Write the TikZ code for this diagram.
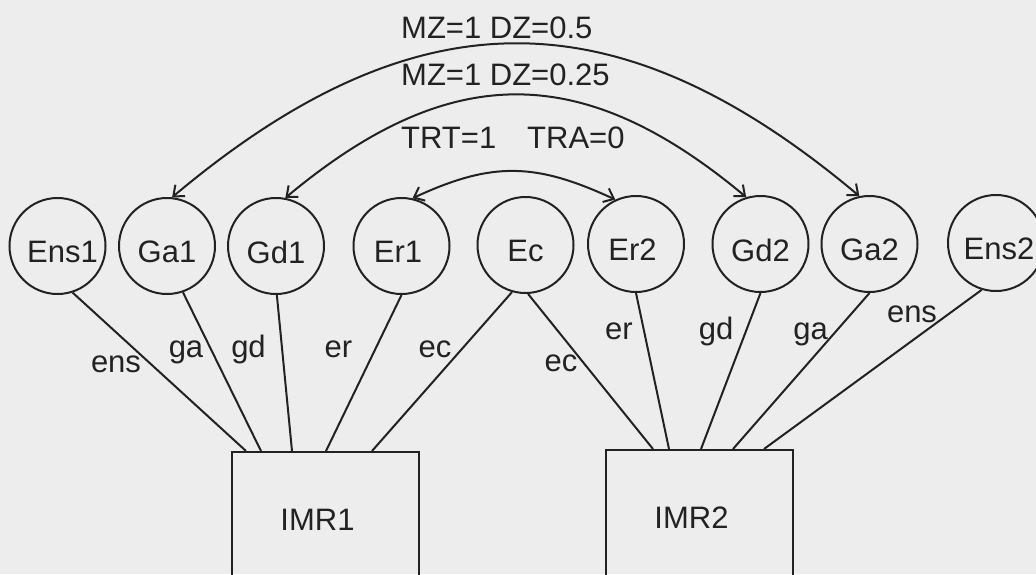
\documentclass[tikz,border=0pt]{standalone}
\usepackage{fontspec}
\setmainfont{Liberation Sans}
\usetikzlibrary{arrows.meta}
\definecolor{bg}{RGB}{237,237,237}
\definecolor{ink}{RGB}{34,34,34}
\newcommand{\lowtext}[2][0pt]{\hspace*{#1}\raisebox{-6pt}[\height][0pt]{#2}}
\begin{document}
\begin{tikzpicture}[x=1pt,y=-1pt,
  font=\fontsize{31}{37}\selectfont, text=ink,
  circ/.style={draw=ink, line width=2pt, circle, minimum size=96pt, inner sep=0pt},
  boxnode/.style={draw=ink, line width=2pt, rectangle, minimum width=187pt, minimum height=136pt, inner sep=0pt},
  conn/.style={draw=ink, line width=2pt},
  arc/.style={draw=ink, line width=2pt, {Straight Barb[length=9pt,width=15pt]}-{Straight Barb[length=9pt,width=15pt]}},
  lab/.style={anchor=base, inner sep=0pt}
]
\fill[bg] (0,0) rectangle (1036,574);
\useasboundingbox (0,0) rectangle (1036,574);
\clip (0,0) rectangle (1036,574);

% latent circles
\node[circ] (Ens1) at (57.5,246) {\lowtext[10pt]{Ens1}};
\node[circ] (Ga1)  at (167,246)  {\lowtext{Ga1}};
\node[circ] (Gd1)  at (276,246)  {\lowtext{Gd1}};
\node[circ] (Er1)  at (401.5,246) {\lowtext[-7pt]{Er1}};
\node[circ] (Ec)   at (525.5,245) {\lowtext{Ec}};
\node[circ] (Er2)  at (636,244)  {\lowtext[-7pt]{Er2}};
\node[circ] (Gd2)  at (760.5,244) {\lowtext{Gd2}};
\node[circ] (Ga2)  at (869.5,244) {\lowtext{Ga2}};
\node[circ] (Ens2) at (996,243)  {\lowtext[6pt]{Ens2}};

% indicator boxes
\node[boxnode, label={[xshift=-8pt]center:IMR1}] (IMR1) at (325.5,520) {};
\node[boxnode, label={[xshift=-8pt]center:IMR2}] (IMR2) at (699.5,518) {};

% loadings to IMR1
\draw[conn] (Ens1.-72) -- ([xshift=15pt]IMR1.north west);
\draw[conn] (Ga1.-71)  -- ([xshift=30pt]IMR1.north west);
\draw[conn] (Gd1.-89)  -- ([xshift=61pt]IMR1.north west);
\draw[conn] (Er1.-90)  -- ([xshift=95pt]IMR1.north west);
\draw[conn] (Ec.-106)  -- ([xshift=141pt]IMR1.north west);

% loadings to IMR2
\draw[conn] (Ec.-87)    -- ([xshift=48pt]IMR2.north west);
\draw[conn] (Er2.-90)   -- ([xshift=64pt]IMR2.north west);
\draw[conn] (Gd2.-90)   -- ([xshift=96pt]IMR2.north west);
\draw[conn] (Ga2.-90)   -- ([xshift=128pt]IMR2.north west);
\draw[conn] (Ens2.-107) -- ([xshift=159pt]IMR2.north west);

% loading labels
\node[lab] (l1) at (116,372) {ens};
\node[lab] (l2) at (186,357) {ga};
\node[lab] (l3) at (248.5,357) {gd};
\node[lab] (l4) at (338.5,357) {er};
\node[lab] (l5) at (435,357) {ec};
\node[lab] (l6) at (561,371) {ec};
\node[lab] (l7) at (619,339) {er};
\node[lab] (l8) at (716,339) {gd};
\node[lab] (l9) at (810.5,339) {ga};
\node[lab] (l10) at (912,322) {ens};

% covariance arcs
\draw[arc] (Ga1.84) .. controls +(243,-204) and +(-243,-204) .. (Ga2.102);
\draw[arc] (Gd1.79) .. controls +(164,-137) and +(-164,-137) .. (Gd2.107);
\draw[arc] (Er1.77) .. controls +(80,-37) and +(-80,-37) .. (Er2.115);

% arc labels
\node[anchor=base west, inner sep=0pt] (t1) at (401,38) {MZ=1 DZ=0.5};
\node[anchor=base west, inner sep=0pt] (t2) at (401,85) {MZ=1 DZ=0.25};
\node[anchor=base west, inner sep=0pt] (t3) at (401,148) {TRT=1\hspace{31pt}TRA=0};
\end{tikzpicture}
\end{document}
